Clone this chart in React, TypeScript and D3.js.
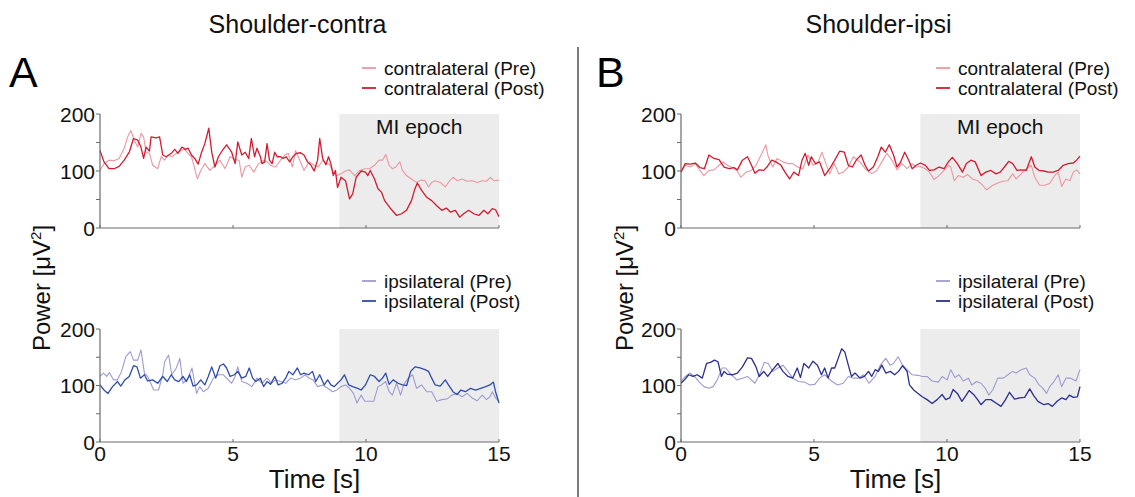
import React from 'react';
import * as d3 from 'd3';

type Pt = [number, number];

// ---- Data (time [s], power [µV²]) ----
const contraPreA: Pt[] = [[0,101],[0.15,113],[0.34,119],[0.53,118],[0.72,122],[0.91,140],[1.04,160],[1.16,171],[1.29,154],[1.42,142],[1.54,166],[1.64,160],[1.73,133],[1.86,131],[1.98,110],[2.17,104],[2.30,125],[2.43,119],[2.55,128],[2.70,125],[2.87,131],[3.06,136],[3.18,138],[3.31,131],[3.44,125],[3.56,104],[3.66,86],[3.79,101],[3.94,113],[4.13,101],[4.32,110],[4.51,119],[4.70,104],[4.89,125],[5.08,120],[5.23,119],[5.33,89],[5.46,107],[5.61,110],[5.78,98],[5.96,113],[6.15,119],[6.28,116],[6.41,110],[6.60,107],[6.79,119],[6.95,128],[7.08,131],[7.23,107],[7.35,136],[7.51,119],[7.67,101],[7.86,116],[8.05,110],[8.21,107],[8.37,119],[8.49,113],[8.62,112],[8.77,98],[8.90,92],[9.06,95],[9.23,100],[9.38,102],[9.57,92],[9.76,101],[9.95,104],[10.13,104],[10.32,110],[10.49,119],[10.62,119],[10.74,129],[10.87,110],[10.99,104],[11.12,107],[11.27,116],[11.37,101],[11.52,92],[11.71,86],[11.90,80],[12.06,84],[12.22,83],[12.35,72],[12.47,80],[12.60,83],[12.79,80],[12.98,72],[13.14,83],[13.29,89],[13.42,83],[13.61,86],[13.80,82],[13.99,83],[14.18,80],[14.37,83],[14.53,82],[14.68,89],[14.81,83],[15,84]];
const contraPostA: Pt[] = [[0,136],[0.15,116],[0.34,104],[0.53,104],[0.72,108],[0.91,119],[1.10,133],[1.26,157],[1.42,154],[1.54,142],[1.64,122],[1.73,142],[1.86,135],[1.92,160],[2.11,158],[2.24,160],[2.36,128],[2.49,125],[2.68,131],[2.81,138],[2.93,131],[3.08,142],[3.21,138],[3.31,140],[3.44,128],[3.56,122],[3.69,112],[3.82,133],[3.94,148],[4.09,175],[4.20,133],[4.32,107],[4.45,125],[4.60,136],[4.76,146],[4.95,133],[5.08,113],[5.18,151],[5.33,128],[5.46,133],[5.59,122],[5.69,157],[5.81,125],[5.90,140],[6.03,125],[6.09,113],[6.19,116],[6.28,148],[6.37,119],[6.47,113],[6.57,133],[6.66,125],[6.79,125],[6.89,122],[7.00,125],[7.13,116],[7.25,125],[7.39,131],[7.54,132],[7.67,128],[7.80,116],[7.92,111],[8.05,100],[8.18,119],[8.26,157],[8.37,122],[8.49,111],[8.59,125],[8.68,113],[8.77,92],[8.85,101],[8.93,71],[9.06,89],[9.23,83],[9.38,51],[9.50,60],[9.63,89],[9.82,100],[9.98,98],[10.07,92],[10.16,101],[10.32,86],[10.45,69],[10.58,63],[10.70,48],[10.89,36],[11.15,22],[11.34,25],[11.52,31],[11.71,48],[11.84,69],[11.93,79],[12.09,66],[12.28,54],[12.47,48],[12.66,39],[12.85,31],[13.02,35],[13.17,28],[13.36,31],[13.52,19],[13.67,25],[13.86,31],[14.05,25],[14.24,22],[14.43,31],[14.58,25],[14.75,34],[14.87,32],[15,20]];
const ipsiPreA: Pt[] = [[0,116],[0.13,122],[0.25,116],[0.35,123],[0.51,110],[0.66,110],[0.81,125],[0.97,151],[1.14,160],[1.26,145],[1.42,145],[1.54,163],[1.67,122],[1.79,116],[2.02,92],[2.20,92],[2.36,119],[2.43,142],[2.58,154],[2.70,119],[2.87,131],[3.00,148],[3.12,104],[3.31,113],[3.46,131],[3.63,86],[3.75,98],[3.88,89],[4.07,95],[4.26,113],[4.45,119],[4.64,119],[4.76,113],[4.95,104],[5.08,116],[5.18,133],[5.33,107],[5.52,104],[5.71,98],[5.90,113],[6.09,104],[6.28,113],[6.45,104],[6.60,110],[6.79,107],[6.98,104],[7.17,113],[7.35,110],[7.54,113],[7.71,119],[7.86,113],[8.01,110],[8.18,98],[8.37,101],[8.56,95],[8.75,89],[8.90,92],[9.06,98],[9.23,101],[9.38,95],[9.53,86],[9.66,69],[9.82,83],[9.95,72],[10.14,72],[10.29,72],[10.45,98],[10.58,101],[10.74,107],[10.87,89],[10.99,83],[11.15,104],[11.30,83],[11.42,102],[11.59,113],[11.75,119],[11.90,95],[12.09,101],[12.28,89],[12.47,89],[12.66,72],[12.85,75],[13.04,76],[13.23,83],[13.42,86],[13.61,80],[13.80,86],[13.99,78],[14.18,73],[14.37,83],[14.53,75],[14.66,80],[14.75,89],[14.87,78],[15,72]];
const ipsiPostA: Pt[] = [[0,101],[0.15,92],[0.30,86],[0.47,98],[0.66,107],[0.78,99],[0.94,110],[1.10,116],[1.26,135],[1.39,133],[1.52,113],[1.67,119],[1.79,108],[1.98,110],[2.17,104],[2.36,116],[2.53,107],[2.68,119],[2.81,110],[2.96,107],[3.12,116],[3.25,107],[3.37,119],[3.50,99],[3.63,101],[3.79,110],[3.94,101],[4.07,116],[4.20,133],[4.35,113],[4.51,135],[4.64,138],[4.76,131],[4.89,116],[5.05,119],[5.18,125],[5.33,113],[5.48,116],[5.61,131],[5.74,113],[5.86,107],[6.03,113],[6.15,98],[6.28,107],[6.41,102],[6.57,116],[6.70,101],[6.85,104],[6.98,113],[7.10,125],[7.25,119],[7.42,131],[7.54,119],[7.67,122],[7.84,119],[7.99,125],[8.11,107],[8.26,119],[8.43,101],[8.56,110],[8.68,101],[8.81,98],[8.93,104],[9.06,110],[9.19,119],[9.35,101],[9.50,98],[9.69,95],[9.82,92],[9.98,101],[10.16,119],[10.32,116],[10.49,107],[10.62,113],[10.74,122],[10.87,102],[11.02,110],[11.21,104],[11.37,101],[11.53,100],[11.68,125],[11.84,133],[12.03,131],[12.22,128],[12.35,125],[12.47,113],[12.60,101],[12.79,99],[12.98,110],[13.10,101],[13.27,89],[13.42,84],[13.57,92],[13.74,89],[13.93,95],[14.12,92],[14.31,95],[14.50,98],[14.66,101],[14.79,106],[14.87,89],[15,69]];
const contraPreB: Pt[] = [[0,100],[0.16,110],[0.35,107],[0.54,113],[0.71,101],[0.86,92],[1.05,101],[1.24,102],[1.43,110],[1.59,116],[1.74,110],[1.93,106],[2.10,101],[2.25,89],[2.44,98],[2.65,101],[2.82,110],[3.01,128],[3.19,146],[3.28,125],[3.45,107],[3.61,122],[3.83,116],[4.02,113],[4.20,113],[4.39,107],[4.58,104],[4.77,128],[4.96,110],[5.13,113],[5.30,133],[5.40,119],[5.59,95],[5.76,113],[5.93,95],[6.10,98],[6.29,107],[6.48,125],[6.73,116],[6.92,104],[7.17,95],[7.36,101],[7.55,116],[7.74,131],[7.93,119],[8.12,102],[8.31,113],[8.50,104],[8.69,113],[8.84,107],[9.00,108],[9.19,104],[9.34,98],[9.51,85],[9.70,92],[9.89,101],[10.05,110],[10.14,107],[10.27,83],[10.43,92],[10.61,89],[10.77,94],[10.96,86],[11.15,83],[11.34,75],[11.49,67],[11.72,75],[11.91,79],[12.10,82],[12.29,83],[12.47,95],[12.60,86],[12.79,95],[12.98,104],[13.17,110],[13.30,89],[13.48,75],[13.67,75],[13.86,78],[14.05,92],[14.18,98],[14.31,73],[14.47,86],[14.62,83],[14.75,98],[14.87,102],[15,95]];
const contraPostB: Pt[] = [[0,98],[0.16,113],[0.35,112],[0.54,114],[0.71,106],[0.88,104],[1.05,128],[1.24,122],[1.43,120],[1.62,107],[1.81,104],[1.99,106],[2.12,102],[2.31,119],[2.50,125],[2.65,110],[2.78,96],[2.94,102],[3.11,101],[3.23,107],[3.41,119],[3.57,116],[3.76,110],[3.91,98],[4.08,86],[4.24,98],[4.42,92],[4.55,119],[4.67,131],[4.80,110],[4.90,125],[5.05,113],[5.21,116],[5.40,92],[5.59,104],[5.78,119],[5.97,135],[6.14,133],[6.29,110],[6.44,107],[6.60,120],[6.77,128],[6.92,110],[7.05,100],[7.23,107],[7.40,125],[7.53,142],[7.68,133],[7.83,146],[7.99,128],[8.12,107],[8.24,114],[8.41,133],[8.56,119],[8.69,104],[8.84,110],[9.00,114],[9.19,110],[9.34,101],[9.51,102],[9.70,107],[9.89,104],[10.05,116],[10.20,124],[10.39,113],[10.58,98],[10.73,113],[10.90,119],[11.06,116],[11.28,92],[11.46,98],[11.65,101],[11.84,95],[12.00,98],[12.16,107],[12.32,117],[12.47,113],[12.63,101],[12.79,102],[12.98,101],[13.17,125],[13.30,107],[13.46,101],[13.64,100],[13.80,98],[13.99,98],[14.18,101],[14.37,110],[14.56,113],[14.75,114],[14.87,119],[15,126]];
const ipsiPreB: Pt[] = [[0,107],[0.16,116],[0.33,122],[0.51,116],[0.67,107],[0.86,98],[1.05,95],[1.21,98],[1.36,110],[1.55,131],[1.68,131],[1.87,120],[2.10,110],[2.31,113],[2.50,116],[2.78,104],[2.98,122],[3.13,141],[3.28,139],[3.45,125],[3.64,131],[3.83,136],[4.02,125],[4.20,113],[4.42,107],[4.65,106],[4.84,101],[5.03,102],[5.21,113],[5.40,119],[5.66,108],[5.88,101],[6.10,104],[6.29,116],[6.48,113],[6.67,113],[6.86,119],[7.07,104],[7.30,116],[7.49,136],[7.70,148],[7.86,136],[7.99,139],[8.16,151],[8.33,136],[8.50,128],[8.69,119],[8.91,118],[9.07,116],[9.25,116],[9.44,108],[9.67,106],[9.82,116],[10.01,110],[10.14,128],[10.30,114],[10.45,119],[10.61,108],[10.81,113],[10.93,101],[11.11,107],[11.28,104],[11.44,95],[11.57,83],[11.72,92],[11.91,113],[12.12,113],[12.29,119],[12.47,125],[12.60,122],[12.79,128],[12.98,131],[13.11,119],[13.30,113],[13.46,101],[13.61,95],[13.74,86],[13.86,98],[14.02,107],[14.18,119],[14.31,98],[14.47,113],[14.65,113],[14.85,108],[15,128]];
const ipsiPostB: Pt[] = [[0,104],[0.13,110],[0.29,119],[0.45,116],[0.61,119],[0.80,113],[0.96,139],[1.11,141],[1.26,145],[1.39,142],[1.52,116],[1.62,125],[1.74,120],[1.93,119],[2.12,122],[2.31,133],[2.50,149],[2.65,148],[2.82,133],[2.94,116],[3.11,125],[3.26,116],[3.45,128],[3.64,139],[3.83,125],[4.02,116],[4.20,113],[4.37,131],[4.49,114],[4.62,139],[4.80,131],[4.96,143],[5.13,136],[5.28,119],[5.40,131],[5.53,113],[5.66,131],[5.78,131],[5.91,148],[6.04,165],[6.16,159],[6.29,136],[6.41,116],[6.54,122],[6.73,113],[6.89,116],[7.05,125],[7.17,116],[7.30,128],[7.42,125],[7.55,136],[7.70,122],[7.87,125],[8.03,119],[8.18,125],[8.33,135],[8.50,125],[8.59,101],[8.75,92],[8.91,86],[9.07,80],[9.25,75],[9.44,68],[9.63,75],[9.82,84],[9.95,75],[10.10,78],[10.23,93],[10.39,86],[10.56,72],[10.71,82],[10.83,91],[11.02,83],[11.15,75],[11.28,66],[11.46,75],[11.65,75],[11.84,69],[12.03,63],[12.20,75],[12.35,88],[12.54,76],[12.73,78],[12.92,79],[13.11,94],[13.26,82],[13.42,72],[13.64,66],[13.80,68],[13.96,63],[14.14,72],[14.31,78],[14.47,75],[14.60,83],[14.75,79],[14.90,80],[15,98]];

const yTicks = [0, 50, 100, 150, 200];
const yTickLabels = [0, 100, 200];
const xTicks = [0, 5, 10, 15];
const epoch: [number, number] = [9, 15];
const titles = ['Shoulder-contra', 'Shoulder-ipsi'];
const letters = ['A', 'B'];
const contraNames = ['contralateral (Pre)', 'contralateral (Post)'];
const ipsiNames = ['ipsilateral (Pre)', 'ipsilateral (Post)'];

const FONT = "'Liberation Sans', Arial, Helvetica, sans-serif";
const C_PRE = '#eb97a0';
const C_POST = '#d41a30';
const I_PRE = '#9d9bcf';
const I_POST_A = '#2f4cab';
const I_POST_B = '#2b2f8e';
const SHADE = '#ebeceb';
const AXIS = '#6b6b6b';

interface PanelProps {
  x0: number; x1: number; yTop: number; yBot: number;
  pre: Pt[]; post: Pt[]; preColor: string; postColor: string;
  showXLabels: boolean; showEpochLabel: boolean;
}

function Panel(p: PanelProps) {
  const x = d3.scaleLinear().domain([0, 15]).range([p.x0, p.x1]);
  const y = d3.scaleLinear().domain([0, 200]).range([p.yBot, p.yTop]);
  const line = d3.line<Pt>().x(d => x(d[0])).y(d => y(d[1]));
  return (
    <g>
      <rect x={x(epoch[0])} y={y(200)} width={x(epoch[1]) - x(epoch[0])} height={y(0) - y(200)} fill={SHADE} />
      {p.showEpochLabel && (
        <text x={(x(epoch[0]) + x(epoch[1])) / 2} y={y(200) + 20} textAnchor="middle" fontSize={21} fontFamily={FONT} fill="#111">MI epoch</text>
      )}
      <path d={line(p.pre) || ''} fill="none" stroke={p.preColor} strokeWidth={1.1} strokeLinejoin="round" />
      <path d={line(p.post) || ''} fill="none" stroke={p.postColor} strokeWidth={1.3} strokeLinejoin="round" />
      <line x1={x(0)} x2={x(0)} y1={y(200)} y2={y(0)} stroke={AXIS} strokeWidth={1.2} />
      <line x1={x(0)} x2={x(15)} y1={y(0)} y2={y(0)} stroke={AXIS} strokeWidth={1.2} />
      {yTicks.map(t => (
        <line key={'yt' + t} x1={x(0) - 4} x2={x(0)} y1={y(t)} y2={y(t)} stroke={AXIS} strokeWidth={1} />
      ))}
      {yTickLabels.map(t => (
        <text key={'yl' + t} x={x(0) - 5} y={y(t) + 7.5} textAnchor="end" fontSize={21} fontFamily={FONT} fill="#111">{t}</text>
      ))}
      {xTicks.map(t => (
        <line key={'xt' + t} x1={x(t)} x2={x(t)} y1={y(0)} y2={y(0) - 3} stroke={AXIS} strokeWidth={1} />
      ))}
      {p.showXLabels && xTicks.map(t => (
        <text key={'xl' + t} x={x(t)} y={y(0) + 19} textAnchor="middle" fontSize={21} fontFamily={FONT} fill="#111">{t}</text>
      ))}
    </g>
  );
}

function Legend({ x, y, names, colors }: { x: number; y: number; names: string[]; colors: string[] }) {
  const gap = 20;
  return (
    <g>
      {names.map((n, i) => (
        <g key={n}>
          <line x1={x} x2={x + 14} y1={y + i * gap} y2={y + i * gap} stroke={colors[i]} strokeWidth={1.8} />
          <text x={x + 22} y={y + i * gap + 6.5} fontSize={19} fontFamily={FONT} fill="#111">{n}</text>
        </g>
      ))}
    </g>
  );
}

export default function App() {
  const cols = [
    { x0: 100, x1: 499, yLabelX: 50, title: titles[0], letterX: 9, legX: 362, contra: [contraPreA, contraPostA], ipsi: [ipsiPreA, ipsiPostA], ipsiPost: I_POST_A },
    { x0: 681, x1: 1080, yLabelX: 633, title: titles[1], letterX: 596, legX: 936, contra: [contraPreB, contraPostB], ipsi: [ipsiPreB, ipsiPostB], ipsiPost: I_POST_B },
  ];
  return (
    <svg width={1135} height={497} style={{ position: 'absolute', left: 0, top: 0, background: '#fff' }}>
      <rect x={0} y={0} width={1135} height={497} fill="#fff" />
      {cols.map((c, i) => (
        <g key={i}>
          <text x={(c.x0 + c.x1) / 2 - 2} y={33} textAnchor="middle" fontSize={25} fontFamily={FONT} fill="#111">{c.title}</text>
          <text x={c.letterX} y={87} fontSize={43} fontFamily={FONT} fill="#000">{letters[i]}</text>
          <Legend x={c.legX} y={68} names={contraNames} colors={[C_PRE, C_POST]} />
          <Legend x={c.legX} y={281} names={ipsiNames} colors={[I_PRE, c.ipsiPost]} />
          <Panel x0={c.x0} x1={c.x1} yTop={114} yBot={228} pre={c.contra[0]} post={c.contra[1]} preColor={C_PRE} postColor={C_POST} showXLabels={false} showEpochLabel={true} />
          <Panel x0={c.x0} x1={c.x1} yTop={329} yBot={442} pre={c.ipsi[0]} post={c.ipsi[1]} preColor={I_PRE} postColor={c.ipsiPost} showXLabels={true} showEpochLabel={false} />
          <text transform={`translate(${c.yLabelX},${288}) rotate(-90)`} textAnchor="middle" fontSize={24} fontFamily={FONT} fill="#111">
            Power [μV<tspan fontSize={15} dy={-9}>2</tspan><tspan dy={9}>]</tspan>
          </text>
          <text x={(c.x0 + c.x1) / 2 + 15} y={488} textAnchor="middle" fontSize={26} fontFamily={FONT} fill="#111">Time [s]</text>
        </g>
      ))}
      <line x1={578} x2={578} y1={47} y2={497} stroke="#222" strokeWidth={1.2} />
    </svg>
  );
}
